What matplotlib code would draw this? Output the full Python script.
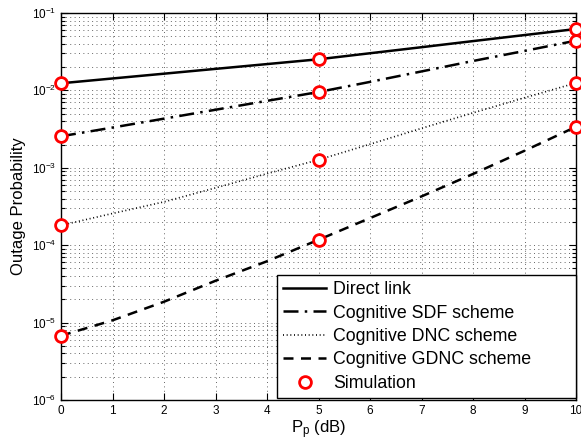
import matplotlib
matplotlib.use("Agg")
import matplotlib.pyplot as plt
from matplotlib.ticker import LogLocator, NullFormatter, FixedLocator

plt.rcParams['font.family'] = ['Liberation Sans', 'DejaVu Sans']
plt.rcParams['mathtext.fontset'] = 'custom'
plt.rcParams['mathtext.rm'] = 'Liberation Sans'
plt.rcParams['mathtext.it'] = 'Liberation Sans:italic'

pp_db = [0, 1, 2, 3, 4, 5, 6, 7, 8, 9, 10]
direct_link = [0.01236, 0.01426, 0.01644, 0.01897, 0.02188, 0.02523,
               0.0302, 0.03614, 0.04335, 0.05188, 0.0621]
sdf = [0.002553, 0.003311, 0.004315, 0.005623, 0.007328, 0.009528,
       0.01288, 0.01758, 0.02399, 0.03236, 0.04395]
dnc = [1.807e-4, 2.57e-4, 3.63e-4, 5.50e-4, 8.41e-4, 1.268e-3,
       2.018e-3, 3.236e-3, 5.129e-3, 8.035e-3, 0.01247]
gdnc = [6.76e-6, 1.07e-5, 1.86e-5, 3.47e-5, 6.2e-5, 1.175e-4,
        2.24e-4, 4.27e-4, 8.32e-4, 1.66e-3, 3.39e-3]

sim_x = [0, 5, 10]
sim_direct = [0.01236, 0.02523, 0.0621]
sim_sdf = [0.002553, 0.009528, 0.04395]
sim_dnc = [1.807e-4, 1.268e-3, 0.01247]
sim_gdnc = [6.76e-6, 1.175e-4, 3.39e-3]

fig = plt.figure(figsize=(5.81, 4.45), dpi=100)
ax = fig.add_axes([61/581, 1-400/445, (576-61)/581, (400-13)/445])

lw = 1.8
l1, = ax.plot(pp_db, direct_link, color='black', linestyle='-', lw=lw, label='Direct link')
l2, = ax.plot(pp_db, sdf, color='black', linestyle=(0, (6, 2.5, 1, 2.5)), lw=lw, label='Cognitive SDF scheme')
l3, = ax.plot(pp_db, dnc, color='black', linestyle=(0, (0.6, 1.6)), lw=1.2, label='Cognitive DNC scheme')
l4, = ax.plot(pp_db, gdnc, color='black', linestyle=(0, (4, 3)), lw=lw, label='Cognitive GDNC scheme')

mk = dict(linestyle='none', marker='o', markersize=8.5, markerfacecolor='white',
          markeredgecolor='red', markeredgewidth=2.0, clip_on=False, zorder=5)
s1, = ax.plot(sim_x * 4, sim_direct + sim_sdf + sim_dnc + sim_gdnc, label='Simulation', **mk)

ax.set_yscale('log')
ax.set_xlim(0, 10)
ax.set_ylim(1e-6, 1e-1)
ax.xaxis.set_major_locator(FixedLocator(pp_db))
ax.yaxis.set_major_locator(LogLocator(base=10, numticks=10))
ax.yaxis.set_minor_locator(LogLocator(base=10, subs=range(2, 10), numticks=20))
ax.yaxis.set_minor_formatter(NullFormatter())

gs = dict(color='0.4', linestyle=(0, (1, 3.5)), linewidth=0.7)
ax.grid(True, which='major', axis='both', **gs)
ax.grid(True, which='minor', axis='y', **gs)

ax.tick_params(which='both', direction='in', top=True, right=True, labelsize=8.5, width=0.8)
ax.tick_params(which='major', length=5)
ax.tick_params(which='minor', length=3)
for sp in ax.spines.values():
    sp.set_linewidth(1.0)

ax.set_xlabel(r'P$_\mathregular{p}$ (dB)', fontsize=12, labelpad=1)
ax.set_ylabel('Outage Probability', fontsize=12, labelpad=4)

x0 = (277 - 61) / 515
leg = ax.legend(handles=[l1, l2, l3, l4, s1], loc='lower left',
                bbox_to_anchor=(x0, 0.005, 1 - x0, 0.3), mode='expand', borderaxespad=0,
                fontsize=12.8, frameon=True, fancybox=False, framealpha=1,
                edgecolor='black', handlelength=2.4, handletextpad=0.4,
                labelspacing=0.36, borderpad=0.35)
leg.get_frame().set_linewidth(1.0)
leg.set_zorder(10)

fig.savefig('out.png', dpi=100)
